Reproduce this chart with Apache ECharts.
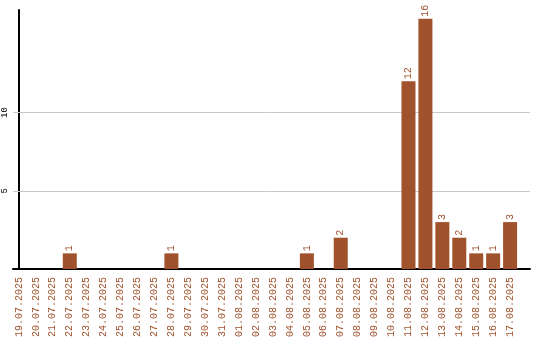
<!DOCTYPE html>
<html><head><meta charset="utf-8">
<script src="https://cdn.jsdelivr.net/npm/echarts@6/dist/echarts.min.js"></script>
<style>html,body{margin:0;padding:0;background:#fff}#c{width:540px;height:340px}</style>
</head><body><div id="c"></div>
<script>
const categories = ["19.07.2025","20.07.2025","21.07.2025","22.07.2025","23.07.2025","24.07.2025","25.07.2025","26.07.2025","27.07.2025","28.07.2025","29.07.2025","30.07.2025","31.07.2025","01.08.2025","02.08.2025","03.08.2025","04.08.2025","05.08.2025","06.08.2025","07.08.2025","08.08.2025","09.08.2025","10.08.2025","11.08.2025","12.08.2025","13.08.2025","14.08.2025","15.08.2025","16.08.2025","17.08.2025"];
const counts = [0,0,0,1,0,0,0,0,0,1,0,0,0,0,0,0,0,1,0,2,0,0,0,12,16,3,2,1,1,3];
const yTickLabels = [5,10];

const chart = echarts.init(document.getElementById('c'));
const brown = '#a0522d';
const font = 'Liberation Mono';
const idx = categories.map((_, i) => i);
chart.setOption({
  animation:false,
  grid:{left:11,right:10,top:10,bottom:70,containLabel:false},
  xAxis:{type:'value',min:-0.353,max:30.176,
    axisLine:{show:true,lineStyle:{color:'#000',width:2}},
    axisTick:{show:false},
    splitLine:{show:false},
    axisLabel:{rotate:90,color:brown,fontFamily:font,fontSize:10,margin:8,
      customValues:idx,showMinLabel:true,showMaxLabel:true,
      formatter:v=>categories[Math.round(v)]||''}
  },
  yAxis:{type:'value',min:0,max:16.56,interval:5,
    axisLine:{show:true,lineStyle:{color:'#000',width:2}},
    axisTick:{show:false},
    splitLine:{show:false},
    axisLabel:{rotate:90,color:'#000',fontFamily:font,fontSize:9,margin:4,
      formatter:v=>yTickLabels.includes(v)?String(v):''}
  },
  series:[{type:'bar',data:counts.map((v,i)=>[i,v]),barWidth:14,
    itemStyle:{color:brown},
    label:{show:true,position:'top',rotate:90,align:'left',verticalAlign:'middle',distance:2,
      color:brown,fontFamily:font,fontSize:10,formatter:p=>p.value[1]?String(p.value[1]):''},
    markLine:{silent:true,symbol:'none',z:1,label:{show:false},
      lineStyle:{color:'#c8c8c8',type:'solid',width:1},
      data:yTickLabels.map(v=>({yAxis:v}))},
    z:2
  }]
});
</script></body></html>
